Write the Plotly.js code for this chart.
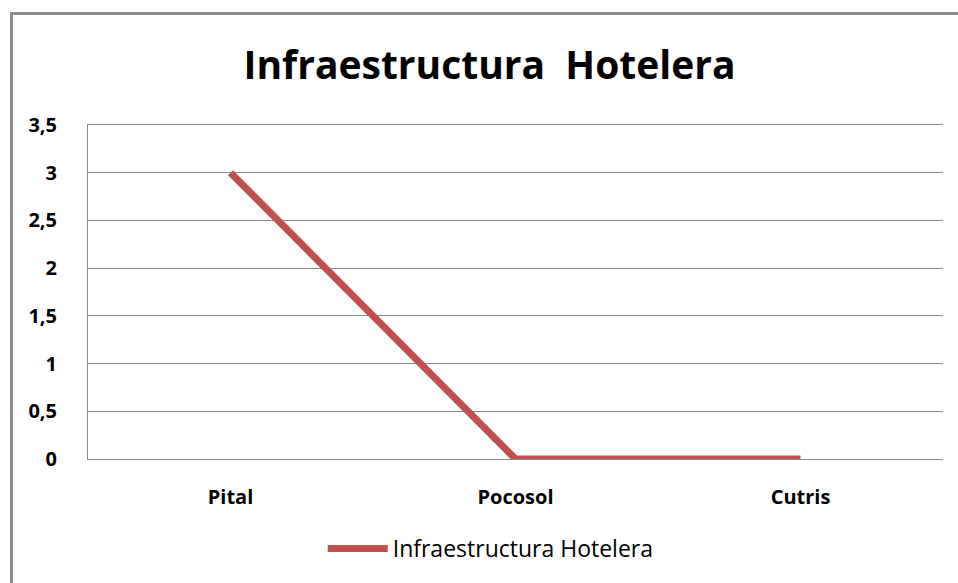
<!DOCTYPE html>
<html><head><meta charset="utf-8">
<script src="https://cdn.plot.ly/plotly-3.0.1.min.js"></script>
<style>
html,body{margin:0;padding:0;background:#fff;overflow:hidden;}
#frame{position:absolute;left:10px;top:12px;width:1000px;height:700px;border-left:3px solid #8c8c8c;border-top:3px solid #8c8c8c;}
#chart{position:absolute;left:0;top:0;width:958px;height:583px;}
</style>
</head><body>
<div id="frame"></div>
<div id="chart"></div>
<script>
var categories = ["Pital", "Pocosol", "Cutris"];
var values = [3, 0, 0];
var seriesName = "Infraestructura Hotelera";
var chartTitle = "Infraestructura  Hotelera";
var yTickVals = [0, 0.5, 1, 1.5, 2, 2.5, 3, 3.5];
var yTickText = ["<b>0</b>", "<b>0,5</b>", "<b>1</b>", "<b>1,5</b>", "<b>2</b>", "<b>2,5</b>", "<b>3</b>", "<b>3,5</b>"];
var xTickText = ["<b>Pital</b>", "<b>Pocosol</b>", "<b>Cutris</b>"];

var trace = {
  x: categories, y: values, name: seriesName, type: "scatter", mode: "lines",
  line: {color: "#C0504D", width: 7},
  showlegend: true
};
var layout = {
  width: 958, height: 583,
  paper_bgcolor: "rgba(0,0,0,0)", plot_bgcolor: "rgba(0,0,0,0)",
  margin: {l: 88, r: 15, t: 125, b: 124},
  title: {text: "<b>" + chartTitle + "</b>", x: 0.511, xanchor: "center", y: 0.888, yanchor: "middle",
          font: {family: "Open Sans, sans-serif", size: 39, color: "#000"}},
  font: {family: "Open Sans, sans-serif", color: "#000"},
  xaxis: {type: "category", range: [-0.5, 2.5], tickvals: categories, ticktext: xTickText,
          showgrid: false, zeroline: false, showline: true, mirror: true, linecolor: "#8a8a8a", linewidth: 1,
          ticks: "", tickfont: {size: 20, family: "Open Sans, sans-serif"}, ticklabelstandoff: 20},
  yaxis: {range: [0, 3.5], tickvals: yTickVals, ticktext: yTickText, showgrid: true, gridcolor: "#8a8a8a", gridwidth: 1,
          zeroline: false, showline: true, linecolor: "#8a8a8a", linewidth: 1, ticks: "",
          tickfont: {size: 20, family: "Open Sans, sans-serif"}, ticklabelstandoff: 26},
  legend: {orientation: "h", x: 0.471, xanchor: "center", y: -0.268, yanchor: "middle",
           font: {size: 23, family: "Open Sans, sans-serif"}, itemwidth: 60}
};
Plotly.newPlot("chart", [trace], layout, {displayModeBar: false, staticPlot: true});
</script>
</body></html>
